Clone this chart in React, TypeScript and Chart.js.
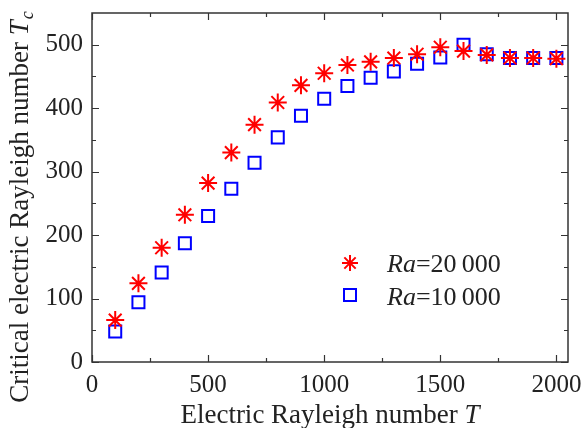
import React, { useEffect, useRef } from 'react';
import { Chart, registerables } from 'chart.js';

Chart.register(...registerables);

const T_VALUES = [100, 200, 300, 400, 500, 600, 700, 800, 900, 1000, 1100, 1200, 1300, 1400, 1500, 1600, 1700, 1800, 1900, 2000];
const TC_RA_20000 = [66, 124, 180, 232, 282, 330, 374, 409, 436, 455, 468, 473, 479, 485, 496, 490, 484, 479, 479, 478];
const TC_RA_10000 = [48, 94, 141, 187, 230, 273, 314, 354, 388, 415, 435, 448, 458, 470, 480, 500, 485, 479, 479, 479];
const X_TICKS = [0, 500, 1000, 1500, 2000];
const X_MINOR = [250, 750, 1250, 1750];
const Y_TICKS = [0, 100, 200, 300, 400, 500];
const Y_MINOR = [50, 150, 250, 350, 450];
const SERIES_ITALIC = ['Ra', 'Ra'];
const SERIES_REST = ['=20\u2009000', '=10\u2009000'];
const X_TITLE = 'Electric Rayleigh number ';
const X_TITLE_VAR = 'T';
const Y_TITLE = 'Critical electric Rayleigh number ';
const Y_TITLE_VAR = 'T';
const Y_TITLE_SUB = 'c';

const SERIF = "'Liberation Serif', 'Times New Roman', serif";
const RED = '#ff0000';
const BLUE = '#0000ff';
const INK = '#222222';

function drawStar(ctx: CanvasRenderingContext2D, x: number, y: number, r: number) {
  ctx.beginPath();
  for (let i = 0; i < 4; i++) {
    const a = (i * Math.PI) / 4;
    ctx.moveTo(x - Math.sin(a) * r, y - Math.cos(a) * r);
    ctx.lineTo(x + Math.sin(a) * r, y + Math.cos(a) * r);
  }
  ctx.stroke();
}

const decorPlugin = {
  id: 'decor',
  afterDraw(chart: any) {
    const { ctx, chartArea: a, scales } = chart;
    const xs = scales.x;
    const ys = scales.y;
    ctx.save();
    // frame
    ctx.strokeStyle = '#333333';
    ctx.lineWidth = 1.5;
    ctx.strokeRect(a.left, a.top, a.right - a.left, a.bottom - a.top);
    // ticks
    ctx.lineWidth = 1.2;
    ctx.beginPath();
    const xt = (v: number, len: number) => {
      const px = Math.round(xs.getPixelForValue(v)) + 0.5;
      ctx.moveTo(px, a.bottom);
      ctx.lineTo(px, a.bottom - len);
      ctx.moveTo(px, a.top);
      ctx.lineTo(px, a.top + len);
    };
    const yt = (v: number, len: number) => {
      const py = Math.round(ys.getPixelForValue(v)) + 0.5;
      ctx.moveTo(a.left, py);
      ctx.lineTo(a.left + len, py);
      ctx.moveTo(a.right, py);
      ctx.lineTo(a.right - len, py);
    };
    X_TICKS.forEach((v) => xt(v, 7));
    X_MINOR.forEach((v) => xt(v, 4));
    Y_TICKS.forEach((v) => yt(v, 7));
    Y_MINOR.forEach((v) => yt(v, 4));
    ctx.stroke();

    // x title
    ctx.fillStyle = INK;
    ctx.textBaseline = 'alphabetic';
    ctx.textAlign = 'left';
    const normal = `27px ${SERIF}`;
    const italic = `italic 27px ${SERIF}`;
    ctx.font = normal;
    const w1 = ctx.measureText(X_TITLE).width;
    ctx.font = italic;
    const w2 = ctx.measureText(X_TITLE_VAR).width;
    const cx = (a.left + a.right) / 2;
    const sx = cx - (w1 + w2) / 2;
    ctx.font = normal;
    ctx.fillText(X_TITLE, sx, 423);
    ctx.font = italic;
    ctx.fillText(X_TITLE_VAR, sx + w1, 423);

    // y title
    ctx.save();
    ctx.translate(28, 207);
    ctx.rotate(-Math.PI / 2);
    ctx.font = normal;
    const y1 = ctx.measureText(Y_TITLE).width;
    ctx.font = italic;
    const y2 = ctx.measureText(Y_TITLE_VAR).width;
    ctx.font = `italic 18px ${SERIF}`;
    const y3 = ctx.measureText(Y_TITLE_SUB).width;
    const sy = -(y1 + y2 + y3 + 1) / 2;
    ctx.font = normal;
    ctx.fillText(Y_TITLE, sy, 0);
    ctx.font = italic;
    ctx.fillText(Y_TITLE_VAR, sy + y1, 0);
    ctx.font = `italic 18px ${SERIF}`;
    ctx.fillText(Y_TITLE_SUB, sy + y1 + y2 + 1, 5);
    ctx.restore();

    // legend
    const rows = [272, 305];
    const markerX = 350;
    ctx.lineWidth = 2;
    ctx.strokeStyle = RED;
    drawStar(ctx, markerX, rows[0] - 9, 8);
    ctx.strokeStyle = BLUE;
    ctx.strokeRect(markerX - 6, rows[1] - 16, 12, 12);
    ctx.fillStyle = INK;
    for (let i = 0; i < 2; i++) {
      const tx = 387;
      ctx.font = `italic 26px ${SERIF}`;
      ctx.fillText(SERIES_ITALIC[i], tx, rows[i]);
      const wi = ctx.measureText(SERIES_ITALIC[i]).width;
      ctx.font = `26px ${SERIF}`;
      ctx.fillText(SERIES_REST[i], tx + wi, rows[i]);
    }
    ctx.restore();
  },
};

export default function App() {
  const ref = useRef<HTMLCanvasElement | null>(null);
  useEffect(() => {
    if (!ref.current) return;
    const tickFont = { family: SERIF, size: 25 };
    const chart = new Chart(ref.current, {
      type: 'scatter',
      data: {
        datasets: [
          {
            label: 'Ra=20 000',
            data: T_VALUES.map((t, i) => ({ x: t, y: TC_RA_20000[i] })),
            pointStyle: 'star',
            pointRadius: 9,
            pointBorderWidth: 2,
            borderColor: RED,
            backgroundColor: RED,
          },
          {
            label: 'Ra=10 000',
            data: T_VALUES.map((t, i) => ({ x: t, y: TC_RA_10000[i] })),
            pointStyle: 'rect',
            pointRadius: 8.5,
            pointBorderWidth: 2,
            borderColor: BLUE,
            backgroundColor: 'rgba(0,0,0,0)',
          },
        ],
      },
      options: {
        animation: false,
        responsive: true,
        maintainAspectRatio: false,
        layout: { padding: { top: 13, right: 14, left: 0, bottom: 0 } },
        plugins: { legend: { display: false }, tooltip: { enabled: false } },
        scales: {
          x: {
            type: 'linear',
            min: 0,
            max: 2050,
            afterBuildTicks: (s: any) => {
              s.ticks = X_TICKS.map((v) => ({ value: v }));
            },
            afterFit: (s: any) => {
              s.height = 66;
              s.paddingLeft = 0;
              s.paddingRight = 0;
            },
            grid: { display: false, drawTicks: false },
            border: { display: false },
            ticks: {
              font: tickFont,
              color: INK,
              padding: 8,
              maxRotation: 0,
              autoSkip: false,
              callback: (v: any) => String(v),
            },
          },
          y: {
            type: 'linear',
            min: 0,
            max: 550,
            afterBuildTicks: (s: any) => {
              s.ticks = Y_TICKS.map((v) => ({ value: v }));
            },
            afterFit: (s: any) => {
              s.width = 92;
              s.paddingTop = 0;
              s.paddingBottom = 0;
            },
            grid: { display: false, drawTicks: false },
            border: { display: false },
            ticks: { font: tickFont, color: INK, padding: 9, autoSkip: false, callback: (v: any) => String(v) },
          },
        },
      },
      plugins: [decorPlugin],
    });
    return () => chart.destroy();
  }, []);
  return (
    <div style={{ position: 'absolute', left: 0, top: 0, width: 582, height: 428, background: '#fff' }}>
      <canvas ref={ref} />
    </div>
  );
}
